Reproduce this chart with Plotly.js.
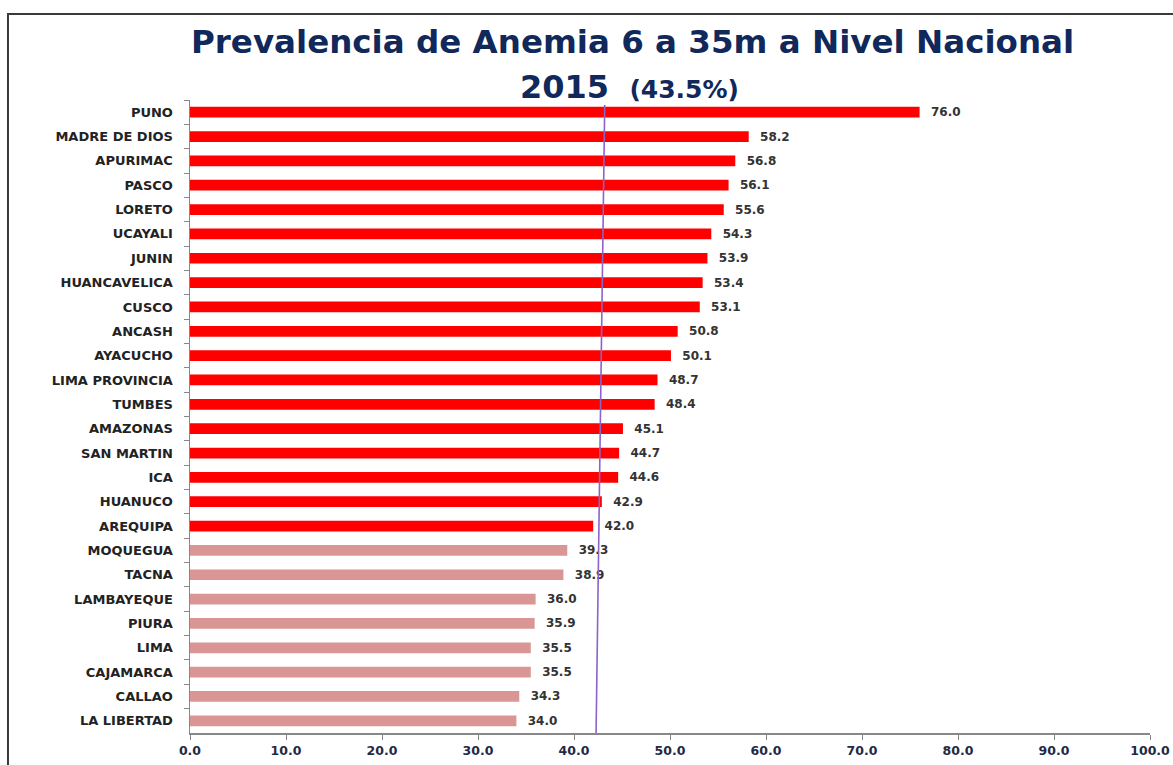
<!DOCTYPE html>
<html>
<head>
<meta charset="utf-8">
<script src="https://cdn.plot.ly/plotly-3.0.1.min.js"></script>
<style>
html,body{margin:0;padding:0;background:#fff;}
#chart{width:1173px;height:765px;}
</style>
</head>
<body>
<div id="chart"></div>
<script>
// ---- data ----
const regions = ["PUNO","MADRE DE DIOS","APURIMAC","PASCO","LORETO","UCAYALI","JUNIN","HUANCAVELICA","CUSCO","ANCASH","AYACUCHO","LIMA PROVINCIA","TUMBES","AMAZONAS","SAN MARTIN","ICA","HUANUCO","AREQUIPA","MOQUEGUA","TACNA","LAMBAYEQUE","PIURA","LIMA","CAJAMARCA","CALLAO","LA LIBERTAD"];
const prevalence = [76.0,58.2,56.8,56.1,55.6,54.3,53.9,53.4,53.1,50.8,50.1,48.7,48.4,45.1,44.7,44.6,42.9,42.0,39.3,38.9,36.0,35.9,35.5,35.5,34.3,34.0];
const highGroup = [true,true,true,true,true,true,true,true,true,true,true,true,true,true,true,true,true,true,false,false,false,false,false,false,false,false];
const xTicks = [0,10,20,30,40,50,60,70,80,90,100];
const titleLine1 = "Prevalencia de Anemia 6 a 35m a Nivel Nacional";
const titleYear = "2015";
const nationalLabel = "(43.5%)";
const referenceLineX = [43.2, 42.3]; // hand-drawn national line, top -> bottom

const RED = "#ff0000", PINK = "#d99694";
const colors = highGroup.map(h => h ? RED : PINK);
const FONT = "DejaVu Sans";
const PAD = "\u00a0\u00a0";

const trace = {
  type: "bar",
  orientation: "h",
  y: regions,
  x: prevalence,
  marker: {color: colors, line: {width: 0}},
  width: 0.44,
  text: prevalence.map(v => PAD + v.toFixed(1)),
  textposition: "outside",
  constraintext: "none",
  cliponaxis: false,
  textfont: {family: FONT, size: 12, color: "#333333", weight: "bold"},
  hoverinfo: "x+y"
};

const layout = {
  width: 1173, height: 765,
  margin: {l: 190, r: 23, t: 100, b: 32},
  paper_bgcolor: "#ffffff",
  plot_bgcolor: "#ffffff",
  showlegend: false,
  xaxis: {
    range: [0, 100],
    tickvals: xTicks,
    tickformat: ".1f",
    ticks: "outside", ticklen: 5, tickcolor: "#888888",
    showline: true, linecolor: "#888888", linewidth: 1.5,
    showgrid: false, zeroline: false,
    tickfont: {family: FONT, size: 12.5, color: "#1f2a44", weight: "bold"}
  },
  yaxis: {
    type: "category",
    range: [25.5, -0.5],
    ticks: "outside", ticklen: 5, tickcolor: "#888888",
    tickson: "boundaries",
    showline: true, linecolor: "#888888", linewidth: 1.5,
    showgrid: false, zeroline: false,
    ticklabelstandoff: 13,
    tickfont: {family: FONT, size: 13, color: "#222222", weight: "bold"}
  },
  shapes: [
    {type: "rect", xref: "paper", yref: "paper",
     x0: -0.1896, x1: 1.06, y0: -0.2, y1: 1.1359,
     line: {color: "#3a3a3a", width: 2}, fillcolor: "rgba(0,0,0,0)", layer: "below"},
    {type: "line", xref: "x", yref: "paper",
     x0: referenceLineX[0], x1: referenceLineX[1], y0: 0.992, y1: 0,
     line: {color: "#8b63c9", width: 1.6}, layer: "above"}
  ],
  annotations: [
    {xref: "paper", yref: "paper", x: 0.461, y: 1.0916, xanchor: "center", yanchor: "middle",
     text: "<b>" + titleLine1 + "</b>", showarrow: false,
     font: {family: FONT, size: 32.5, color: "#10285a"}},
    {xref: "paper", yref: "paper", x: 0.458, y: 1.021, xanchor: "center", yanchor: "middle",
     text: "<b>" + titleYear + "</b>  <b><span style='font-size:25px'>" + nationalLabel + "</span></b>",
     showarrow: false,
     font: {family: FONT, size: 32, color: "#10285a"}}
  ]
};

Plotly.newPlot("chart", [trace], layout, {displayModeBar: false, staticPlot: true});
</script>
</body>
</html>
